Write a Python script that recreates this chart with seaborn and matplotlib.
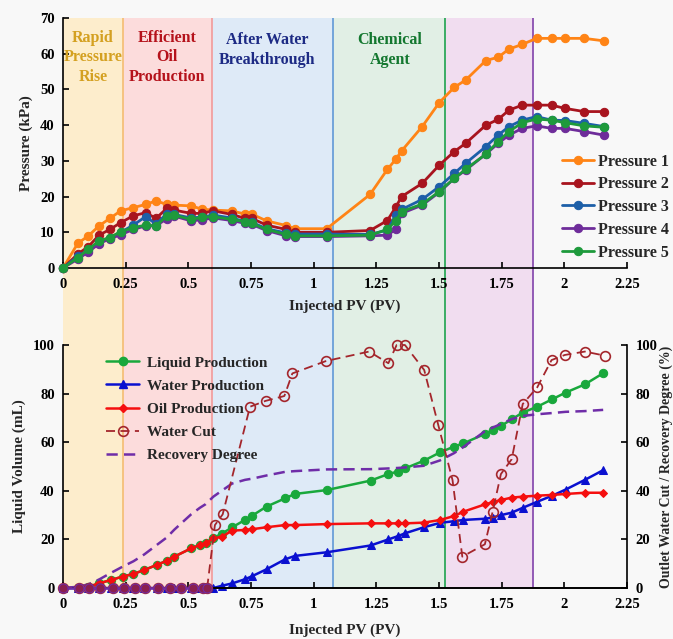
import matplotlib
matplotlib.use("Agg")
import matplotlib.pyplot as plt
from matplotlib.lines import Line2D
from matplotlib.ticker import FuncFormatter, MultipleLocator
import seaborn as sns

# =========================
# DATA
# =========================
PV_PRESSURE = [0, 0.059, 0.101, 0.144, 0.187, 0.23, 0.28, 0.33, 0.371, 0.414, 0.444,
               0.511, 0.553, 0.6, 0.673, 0.726, 0.753, 0.812, 0.89, 0.926, 1.052,
               1.225, 1.294, 1.327, 1.351, 1.433, 1.501, 1.561, 1.606, 1.687, 1.736,
               1.779, 1.832, 1.889, 1.949, 2.002, 2.079, 2.158]
P1 = [0, 6.9, 9.0, 11.8, 13.9, 16.0, 16.9, 17.8, 18.8, 17.8, 17.6, 17.4, 16.5, 16.2,
      16.0, 15.1, 15.1, 13.2, 11.9, 11.0, 11.0,
      20.6, 27.6, 30.4, 32.8, 39.6, 46.3, 50.6, 52.6, 58.1, 59.0, 61.3, 62.6, 64.3,
      64.3, 64.3, 64.3, 63.6]
P2 = [0, 3.9, 6.0, 9.2, 10.8, 12.7, 14.6, 15.5, 13.9, 16.7, 16.2, 15.3, 15.3, 16.0,
      15.0, 13.9, 13.9, 12.0, 10.8, 10.0, 10.0,
      10.5, 13.3, 17.0, 20.0, 23.7, 28.8, 32.6, 34.9, 40.0, 41.6, 44.2, 45.6, 45.6,
      45.6, 44.7, 43.8, 43.8]
P3 = [0, 3.3, 5.0, 7.5, 8.5, 10.0, 12.0, 14.4, 12.3, 15.2, 15.0, 14.0, 14.3, 14.8,
      14.0, 13.0, 12.8, 11.0, 9.8, 9.5, 9.5,
      9.4, 10.6, 14.8, 16.4, 19.2, 22.8, 26.5, 29.3, 34.0, 37.2, 39.6, 41.4, 42.4,
      41.4, 41.3, 40.5, 39.6]
P4 = [0, 2.5, 4.5, 6.8, 8.2, 9.3, 10.8, 11.8, 11.8, 13.8, 14.5, 13.2, 13.5, 14.0,
      13.3, 12.5, 12.2, 10.5, 9.0, 8.8, 8.8,
      9.0, 9.2, 10.8, 15.3, 17.6, 21.2, 25.1, 27.4, 31.9, 34.9, 37.2, 39.1, 39.8,
      39.1, 39.1, 38.2, 37.2]
P5 = [0, 2.9, 5.2, 7.6, 8.5, 10.2, 11.3, 12.0, 11.8, 14.6, 14.8, 13.6, 14.2, 14.4,
      13.6, 13.0, 12.5, 10.8, 9.4, 9.0, 9.0,
      9.2, 10.8, 13.2, 15.8, 17.9, 21.4, 25.1, 27.6, 31.9, 35.4, 38.2, 40.7, 41.7,
      41.4, 40.7, 39.8, 39.4]

PV_FLOW = [0, 0.059, 0.101, 0.144, 0.191, 0.238, 0.281, 0.324, 0.374, 0.414, 0.444,
           0.511, 0.546, 0.569, 0.6, 0.633, 0.675, 0.726, 0.755, 0.812, 0.886, 0.925,
           1.052, 1.227, 1.298, 1.335, 1.364, 1.44, 1.504, 1.56, 1.597, 1.683, 1.714,
           1.747, 1.79, 1.834, 1.892, 1.952, 2.005, 2.082, 2.155]
LIQUID = [0, 0.1, 0.5, 1.9, 3.3, 4.7, 5.8, 7.4, 9.5, 11.2, 12.9, 16.3, 17.7, 18.4,
          20.6, 22.3, 25.0, 28.0, 29.8, 33.5, 36.9, 38.7, 40.3,
          44.2, 46.9, 47.9, 49.2, 52.4, 55.8, 58.2, 59.5, 63.4, 65.0, 66.7, 69.4,
          72.2, 74.6, 77.7, 80.4, 83.8, 88.4]
WATER = [0, 0, 0, 0, 0, 0, 0, 0, 0, 0, 0, 0, 0, 0, 0, 0.9, 1.9, 3.6, 4.9, 7.7, 11.8,
         13.2, 14.7,
         17.5, 20.0, 21.3, 22.5, 25.0, 26.8, 27.5, 28.0, 28.5, 29.0, 30.0, 31.0,
         33.0, 35.5, 38.0, 40.5, 44.5, 48.5]
OIL = [0, 0.1, 0.5, 1.9, 3.3, 4.7, 5.8, 7.4, 9.5, 11.2, 12.9, 16.3, 17.7, 18.4, 20.4,
       21.1, 23.6, 23.9, 24.2, 25.0, 25.9, 25.9, 26.3,
       26.6, 26.6, 26.6, 26.6, 26.9, 28.0, 29.6, 31.4, 34.4, 35.3, 36.2, 37.2, 37.6,
       38.0, 38.3, 38.7, 39.2, 39.2]
RECOVERY = [0, 0.5, 1.5, 3.5, 6.2, 8.8, 11.0, 13.8, 17.7, 20.8, 24.0, 30.3, 33.0, 34.5,
            37.6, 40.0, 43.0, 44.5, 45.0, 46.3, 47.8, 48.1, 48.8,
            48.9, 49.2, 49.4, 49.6, 50.3, 52.5, 55.5, 58.0, 64.5, 66.0, 67.5, 69.5,
            70.8, 71.5, 72.0, 72.5, 72.8, 73.3]

PV_CUT = [0, 0.063, 0.104, 0.149, 0.198, 0.242, 0.286, 0.328, 0.38, 0.426, 0.47, 0.518,
          0.559, 0.575, 0.606, 0.637, 0.746, 0.808, 0.883, 0.915, 1.049,
          1.221, 1.298, 1.331, 1.364, 1.441, 1.497, 1.554, 1.593, 1.683, 1.714, 1.747,
          1.79, 1.834, 1.892, 1.949, 2.002, 2.082, 2.162]
WATER_CUT = [0, 0, 0, 0, 0, 0, 0, 0, 0, 0, 0, 0, 0, 0, 25.9, 30.3, 74.6, 77.0, 79.0,
             88.3, 93.4,
             97.3, 92.5, 100.0, 100.0, 89.7, 67.1, 44.4, 12.9, 18.0, 31.4, 46.9, 53.0,
             75.7, 82.6, 93.8, 95.9, 97.3, 95.6]

STAGE_EDGES = [0, 0.239, 0.594, 1.077, 1.524, 1.875]
STAGE_NAMES = ["Rapid\nPressure\nRise", "Efficient\nOil\nProduction",
               "After Water\nBreakthrough", "Chemical\nAgent"]

# =========================
# STYLE
# =========================
STAGE_FILLS = ["#FDEDCC", "#FCDCDC", "#DEEAF7", "#E1EFE5", "#F1DDF0"]
STAGE_LINES = ["#F5C07A", "#F2A0A0", "#6A9FD8", "#2DA85A", "#8A4FB0"]
STAGE_TEXT = ["#D4A020", "#B5121B", "#1C2A84", "#13772F"]
STAGE_TEXT_POS = [(0.12, 59.0), (0.415, 59.0), (0.815, 61.0), (1.305, 61.0)]

P_COLORS = ["#FF8416", "#A8141E", "#1D5FA8", "#6E2C9A", "#1E9A3C"]
C_LIQ, C_WAT, C_OIL, C_CUT, C_REC = "#19A83C", "#0A10D0", "#F50F0F", "#A4262C", "#6F2DA8"

sns.set_style("ticks")
plt.rcParams["font.family"] = ["Liberation Serif", "DejaVu Serif"]
plt.rcParams["font.weight"] = "bold"
plt.rcParams["axes.labelweight"] = "bold"
plt.rcParams["axes.linewidth"] = 1.2
plt.rcParams["axes.edgecolor"] = "black"

W, H = 673, 639


def box(left, top, right, bottom):
    return [left / W, 1 - bottom / H, (right - left) / W, (bottom - top) / H]


def style_axis(ax, ylim, ystep, xlabelpad):
    ax.set_xlim(0, 2.25)
    ax.set_ylim(*ylim)
    ax.set_facecolor("none")
    ax.xaxis.set_major_locator(MultipleLocator(0.25))
    ax.yaxis.set_major_locator(MultipleLocator(ystep))
    ax.xaxis.set_major_formatter(FuncFormatter(lambda v, _: f"{v:g}"))
    ax.tick_params(direction="in", length=4, width=1.2, labelsize=10.5, colors="black")
    ax.tick_params(axis="x", pad=7)
    ax.tick_params(axis="y", pad=6)
    ax.set_xlabel("Injected PV (PV)", fontsize=11, labelpad=xlabelpad)


fig = plt.figure(figsize=(W / 100, H / 100), dpi=100, facecolor="#F8F8F8")

# shaded stages spanning both panels
bg = fig.add_axes(box(63, 18, 627, 588))
bg.set_xlim(0, 2.25)
bg.set_ylim(0, 1)
bg.axis("off")
for i in range(len(STAGE_EDGES) - 1):
    bg.axvspan(STAGE_EDGES[i], STAGE_EDGES[i + 1], color=STAGE_FILLS[i], lw=0)
for x, c in zip(STAGE_EDGES[1:], STAGE_LINES):
    bg.axvline(x, color=c, lw=1.3)

# =========================
# TOP: pressures
# =========================
ax1 = fig.add_axes(box(63, 18, 627, 268))
for i, (vals, c) in enumerate(zip([P1, P2, P3, P4, P5], P_COLORS)):
    sns.lineplot(x=PV_PRESSURE, y=vals, ax=ax1, color=c, lw=2.0, marker="o",
                 markersize=6, markeredgecolor=c, label=f"Pressure {i + 1}",
                 legend=False, clip_on=False, zorder=3)
style_axis(ax1, (0, 70), 10, xlabelpad=6)
ax1.set_ylabel("Pressure (kPa)", fontsize=11, labelpad=5)
sns.despine(ax=ax1, top=True, right=True)

for name, c, (tx, ty) in zip(STAGE_NAMES, STAGE_TEXT, STAGE_TEXT_POS):
    ax1.text(tx, ty, name, color=c, ha="center", va="center", fontsize=11.5,
             fontweight="bold", linespacing=1.3)

ax1.legend(loc="lower right", bbox_to_anchor=(1.075, 0.03), frameon=False,
           fontsize=11.5, handlelength=2.0, handletextpad=0.3, labelspacing=0.42,
           borderaxespad=0, borderpad=0)

# =========================
# BOTTOM: volumes + water cut / recovery
# =========================
ax2 = fig.add_axes(box(63, 345, 627, 588))
sns.lineplot(x=PV_FLOW, y=LIQUID, ax=ax2, color=C_LIQ, lw=1.8, marker="o", markersize=6,
             markeredgecolor=C_LIQ, label="Liquid Production", legend=False, clip_on=False)
sns.lineplot(x=PV_FLOW, y=WATER, ax=ax2, color=C_WAT, lw=1.8, marker="^", markersize=6,
             markeredgecolor=C_WAT, label="Water Production", legend=False, clip_on=False)
sns.lineplot(x=PV_FLOW, y=OIL, ax=ax2, color=C_OIL, lw=1.8, marker="D", markersize=4.5,
             markeredgecolor=C_OIL, label="Oil Production", legend=False, clip_on=False)
style_axis(ax2, (0, 100), 20, xlabelpad=9)
ax2.set_ylabel("Liquid Volume (mL)", fontsize=11, labelpad=5)
ax2.spines["top"].set_visible(False)
ax2.spines["right"].set_visible(False)

ax3 = ax2.twinx()
ax3.set_facecolor("none")
sns.lineplot(x=PV_FLOW, y=RECOVERY, ax=ax3, color=C_REC, lw=1.8,
             linestyle=(0, (4.5, 2.5)), label="Recovery Degree", legend=False,
             clip_on=False, zorder=2)
sns.lineplot(x=PV_CUT, y=WATER_CUT, ax=ax3, color=C_CUT, lw=1.3, linestyle=(0, (5, 3)),
             marker="o", markersize=7, markerfacecolor="none", markeredgecolor=C_CUT,
             markeredgewidth=1.2, label="Water Cut", legend=False, clip_on=False, zorder=3)
# points before breakthrough sit on the zero line as filled dots
zero_x = [x for x, v in zip(PV_CUT, WATER_CUT) if v == 0]
zero_y = [v for v in WATER_CUT if v == 0]
sns.lineplot(x=zero_x, y=zero_y, ax=ax3, color="#6F2DA8", lw=1.8, marker="o",
             markersize=6.5, markerfacecolor="#8A1F4E", markeredgecolor="#6F2DA8",
             legend=False, clip_on=False, zorder=4)
ax3.set_ylim(0, 100)
ax3.yaxis.set_major_locator(MultipleLocator(20))
ax3.tick_params(direction="in", length=4, width=1.2, labelsize=10.5, pad=6, colors="black")
ax3.set_ylabel("Outlet Water Cut / Recovery Degree (%)", fontsize=10, labelpad=2)
ax3.spines["top"].set_visible(False)
ax3.spines["left"].set_visible(False)

handles = [
    Line2D([], [], color=C_LIQ, lw=1.8, marker="o", markersize=6),
    Line2D([], [], color=C_WAT, lw=1.8, marker="^", markersize=6),
    Line2D([], [], color=C_OIL, lw=1.8, marker="D", markersize=4.5),
    Line2D([], [], color=C_CUT, lw=1.3, linestyle=(0, (5, 3)), marker="o", markersize=7,
           markerfacecolor="none", markeredgewidth=1.2),
    Line2D([], [], color=C_REC, lw=1.8, linestyle=(0, (4.5, 2.5))),
]
labels = ["Liquid Production", "Water Production", "Oil Production", "Water Cut",
          "Recovery Degree"]
ax3.legend(handles, labels, loc="upper left", bbox_to_anchor=(0.076, 0.955),
           frameon=False, fontsize=11, handlelength=2.2, handletextpad=0.5,
           labelspacing=0.62, borderaxespad=0, borderpad=0)

fig.savefig("out.png", dpi=100, facecolor=fig.get_facecolor())
